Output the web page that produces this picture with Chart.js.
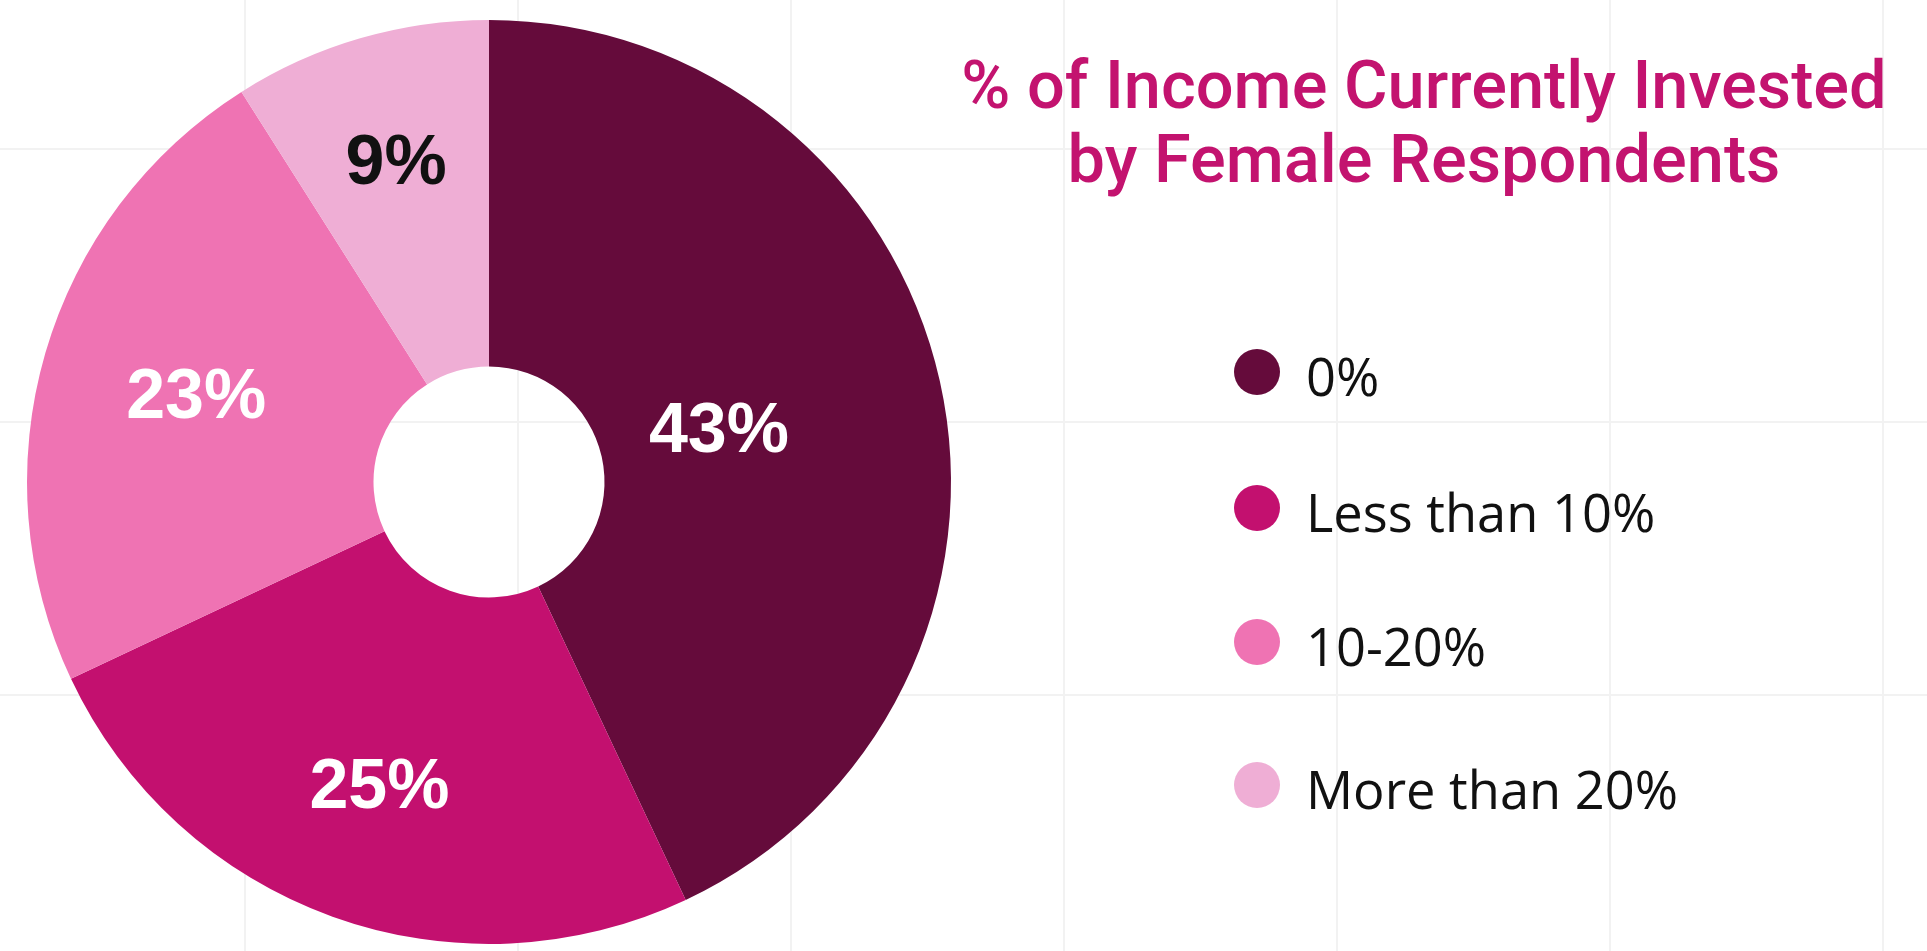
<!DOCTYPE html>
<html>
<head>
<meta charset="utf-8">
<title>% of Income Currently Invested by Female Respondents</title>
<script src="https://cdn.jsdelivr.net/npm/chart.js@4.4.1/dist/chart.umd.min.js"></script>
<style>
  html, body { margin: 0; padding: 0; background: #ffffff; overflow: hidden; }
  #wrap { width: 1927px; height: 951px; position: relative; }
  canvas { display: block; }
</style>
</head>
<body>
<div id="wrap"><canvas id="chart" width="1927" height="951"></canvas></div>
<script>
// Survey answers: share of income currently invested
const categories = ['0%', 'Less than 10%', '10-20%', 'More than 20%'];
const shares = [43, 25, 23, 9];
const sliceColors = ['#650b3b', '#c3106f', '#ef73b3', '#efaed5'];
const labelColors = ['#ffffff', '#ffffff', '#ffffff', '#111111'];
const titleLines = ['% of Income Currently Invested', 'by Female Respondents'];

// Fit a font size so that a reference string spans a given width
function fitSize(ctx, text, weight, family, targetWidth) {
  ctx.font = weight + ' 100px ' + family;
  const w = ctx.measureText(text).width;
  return 100 * targetWidth / w;
}

// Faint square grid behind everything
const gridBackground = {
  id: 'gridBackground',
  beforeDraw(chart) {
    const ctx = chart.ctx;
    ctx.save();
    ctx.fillStyle = '#ffffff';
    ctx.fillRect(0, 0, chart.width, chart.height);
    ctx.strokeStyle = '#f2f2f2';
    ctx.lineWidth = 2;
    const xs = [245, 518, 791, 1064, 1337, 1610, 1883];
    const ys = [149, 422, 695];
    ctx.beginPath();
    xs.forEach(x => { ctx.moveTo(x, 0); ctx.lineTo(x, chart.height); });
    ys.forEach(y => { ctx.moveTo(0, y); ctx.lineTo(chart.width, y); });
    ctx.stroke();
    ctx.restore();
  }
};

// Percentage labels inside each slice
const sliceLabels = {
  id: 'sliceLabels',
  afterDatasetsDraw(chart, args, opts) {
    const ctx = chart.ctx;
    const meta = chart.getDatasetMeta(0);
    const values = chart.data.datasets[0].data;
    ctx.save();
    ctx.font = 'bold 70px "Liberation Sans", Arial, sans-serif';
    ctx.textAlign = 'center';
    ctx.textBaseline = 'middle';
    meta.data.forEach((arc, i) => {
      const p = arc.getProps(['x', 'y', 'startAngle', 'endAngle', 'outerRadius'], true);
      const mid = (p.startAngle + p.endAngle) / 2;
      const r = p.outerRadius * opts.radial[i];
      ctx.fillStyle = labelColors[i];
      ctx.fillText(values[i] + '%', p.x + Math.cos(mid) * r, p.y + Math.sin(mid) * r + 2);
    });
    ctx.restore();
  }
};

// Title and legend in the right-hand panel
const sidePanel = {
  id: 'sidePanel',
  afterDraw(chart) {
    const ctx = chart.ctx;
    ctx.save();
    // title
    const tFamily = 'Roboto, "Liberation Sans", sans-serif';
    const tSize = fitSize(ctx, titleLines[0], '500', tFamily, 925);
    ctx.font = '500 ' + tSize.toFixed(1) + 'px ' + tFamily;
    ctx.fillStyle = '#c3136f';
    ctx.textAlign = 'center';
    ctx.textBaseline = 'alphabetic';
    ctx.fillText(titleLines[0], 1424, 108);
    ctx.fillText(titleLines[1], 1424, 182);

    // legend
    const lFamily = '"Open Sans", sans-serif';
    const lSize = fitSize(ctx, categories[1], '400', lFamily, 349);
    const colors = chart.data.datasets[0].backgroundColor;
    const rowY = [372, 508, 642, 785];
    chart.data.labels.forEach((label, i) => {
      const y = rowY[i];
      ctx.beginPath();
      ctx.fillStyle = colors[i];
      ctx.arc(1257, y, 23, 0, Math.PI * 2);
      ctx.fill();
      ctx.font = '400 ' + lSize.toFixed(1) + 'px ' + lFamily;
      ctx.fillStyle = '#111111';
      ctx.textAlign = 'left';
      ctx.textBaseline = 'alphabetic';
      ctx.fillText(label, 1306, y + 24);
    });
    ctx.restore();
  }
};

new Chart(document.getElementById('chart'), {
  type: 'doughnut',
  data: {
    labels: categories,
    datasets: [{
      data: shares,
      backgroundColor: sliceColors,
      borderWidth: 0,
      hoverOffset: 0
    }]
  },
  options: {
    responsive: false,
    devicePixelRatio: 1,
    animation: false,
    cutout: '25%',
    layout: { padding: { left: 27, right: 976, top: 20, bottom: 7 } },
    plugins: {
      legend: { display: false },
      title: { display: false },
      tooltip: { enabled: false },
      sliceLabels: { radial: [0.51, 0.70, 0.66, 0.72] }
    }
  },
  plugins: [gridBackground, sliceLabels, sidePanel]
});
</script>
</body>
</html>
